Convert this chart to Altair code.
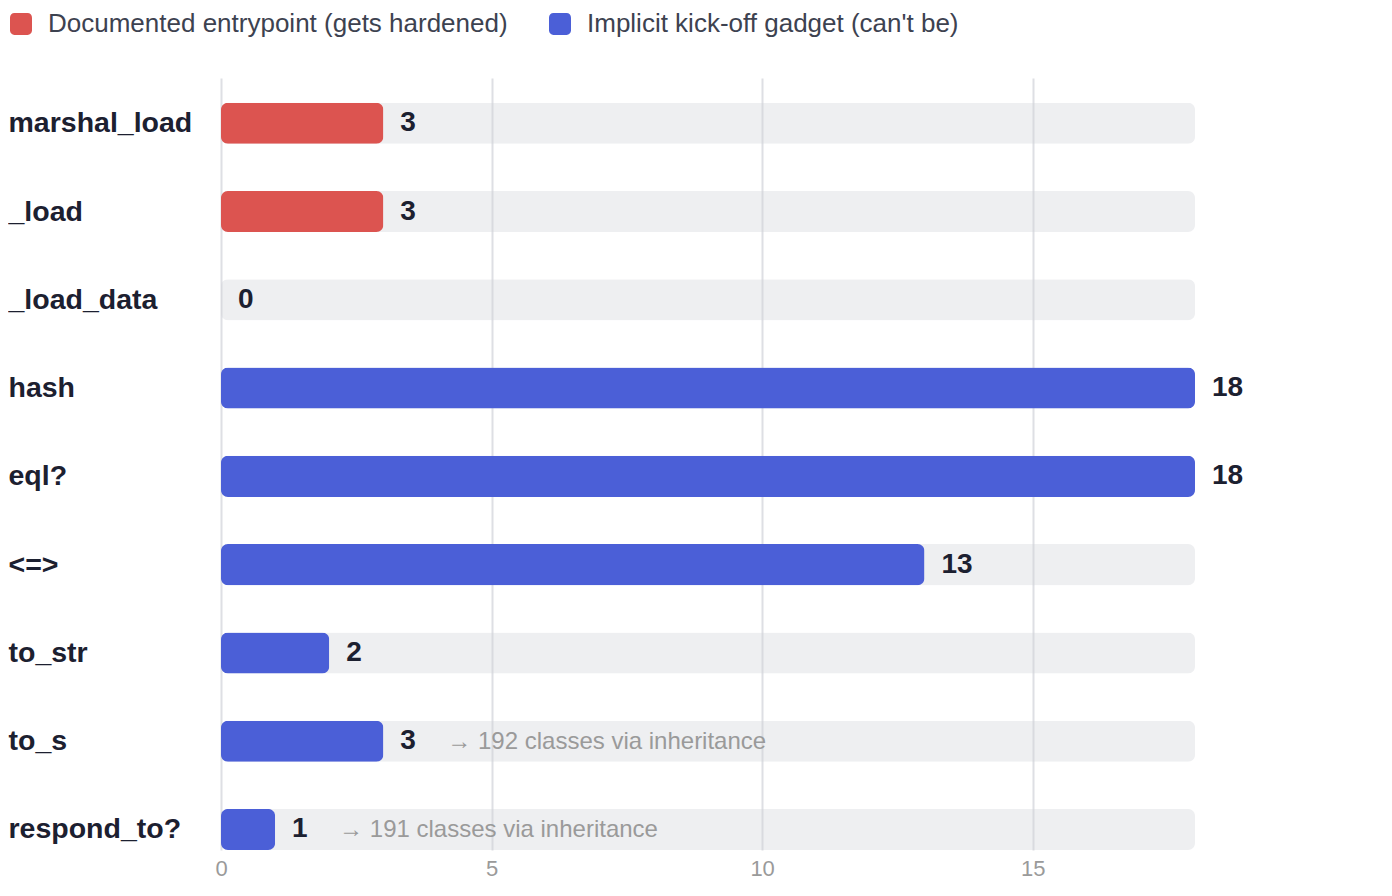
import altair as alt
import pandas as pd

methods = ["marshal_load", "_load", "_load_data", "hash", "eql?", "<=>", "to_str", "to_s", "respond_to?"]
counts = [3, 3, 0, 18, 18, 13, 2, 3, 1]
kinds = [
    "Documented entrypoint (gets hardened)",
    "Documented entrypoint (gets hardened)",
    "Documented entrypoint (gets hardened)",
    "Implicit kick-off gadget (can't be)",
    "Implicit kick-off gadget (can't be)",
    "Implicit kick-off gadget (can't be)",
    "Implicit kick-off gadget (can't be)",
    "Implicit kick-off gadget (can't be)",
    "Implicit kick-off gadget (can't be)",
]
notes = ["", "", "", "", "", "", "", "→ 192 classes via inheritance", "→ 191 classes via inheritance"]
kind_names = ["Documented entrypoint (gets hardened)", "Implicit kick-off gadget (can't be)"]
kind_colors = ["#dc5450", "#4b5fd7"]
x_ticks = [0, 5, 10, 15]

df = pd.DataFrame({"method": methods, "count": counts, "kind": kinds, "note": notes})

FONT = "Liberation Sans"
ROUND_SQ = ("M-0.6,-1 H0.6 A0.4,0.4 0 0 1 1,-0.6 V0.6 A0.4,0.4 0 0 1 0.6,1 "
            "H-0.6 A0.4,0.4 0 0 1 -1,0.6 V-0.6 A0.4,0.4 0 0 1 -0.6,-1 Z")

y_enc = alt.Y(
    "method:N",
    sort=methods,
    scale=alt.Scale(paddingInner=0.535, paddingOuter=0.14, align=1),
    axis=alt.Axis(
        title=None, labelAlign="left", labelPadding=213, ticks=False, domain=False,
        grid=False, labelFontSize=28.5, labelFontWeight="bold", labelColor="#1c2030",
        labelFont=FONT, labelLimit=400, labelBaseline="middle",
    ),
)
x_scale = alt.Scale(nice=False, zero=True)
x_axis = alt.Axis(
    title=None, values=x_ticks, grid=True, gridColor="#dedfe4", gridWidth=2,
    domain=False, ticks=False, labelFontSize=22, labelColor="#9a9a9a",
    labelFont=FONT, labelPadding=8, labelFlush=False,
)

base = alt.Chart(df)

track = base.transform_joinaggregate(maxv="max(count)").mark_bar(
    color="#cfd2d8", opacity=0.355, cornerRadius=7
).encode(
    y=y_enc,
    x=alt.X("maxv:Q", scale=x_scale, axis=x_axis),
)

bars = base.transform_filter("datum.count > 0").mark_bar(cornerRadius=7).encode(
    y=y_enc,
    x=alt.X("count:Q", scale=x_scale, axis=x_axis),
    color=alt.Color(
        "kind:N",
        scale=alt.Scale(domain=kind_names, range=kind_colors),
        legend=alt.Legend(
            title=None, orient="none", legendX=-213, legendY=-67, direction="horizontal",
            symbolType=ROUND_SQ, symbolSize=484, symbolStrokeWidth=0, symbolOpacity=1,
            labelFontSize=26, labelFont=FONT, labelColor="#3d4250", labelOffset=14,
            columnPadding=39, labelLimit=600,
        ),
    ),
)

values = base.mark_text(
    align="left", baseline="middle", dx=17, fontSize=28, fontWeight="bold",
    color="#1c2030", font=FONT,
).encode(
    y=y_enc,
    x=alt.X("count:Q", scale=x_scale, axis=x_axis),
    text="count:Q",
)

note_text = base.transform_filter("datum.note != ''").mark_text(
    align="left", baseline="middle", dx=64, dy=1, fontSize=24, color="#9a9a9a", font=FONT,
).encode(
    y=y_enc,
    x=alt.X("count:Q", scale=x_scale, axis=x_axis),
    text="note:N",
)

chart = alt.layer(track, bars, values, note_text).properties(
    width=974, height=772,
    padding={"left": 0, "top": 3, "right": 5, "bottom": 5},
).configure(font=FONT).configure_view(stroke=None)

chart.save("out.html", embed_options={"renderer": "svg", "actions": False})
